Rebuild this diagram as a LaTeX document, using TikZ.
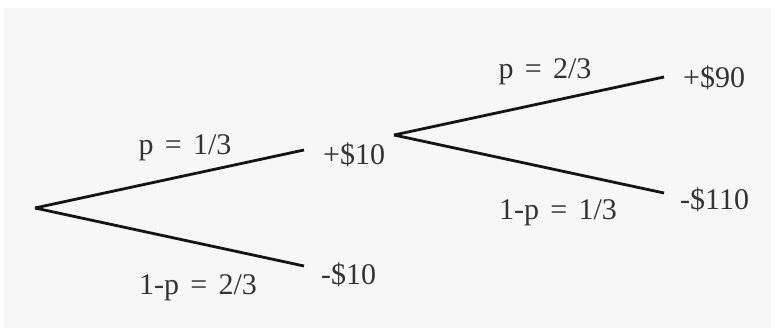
\documentclass[tikz,border=0pt]{standalone}
\usepackage{fontspec}
\setmainfont{Liberation Serif}[WordSpace=1.5]
\usepackage{tikz}
\usetikzlibrary{positioning}
\definecolor{mybg}{RGB}{247,247,247}
\definecolor{mydark}{RGB}{20,20,20}
\tikzset{
  branch/.style={line width=2.8pt, color=mydark},
  payoff/.style={anchor=west, inner sep=0pt, font=\fontsize{30}{33}\selectfont, text=black!80},
  prob/.style={inner sep=0pt, font=\fontsize{30}{33}\selectfont, text=black!80}
}

\begin{document}
\begin{tikzpicture}[x=1pt, y=1pt]
  \useasboundingbox (0,0) rectangle (776,329);
  \fill[mybg] (4,1) rectangle (771,321);
  % first gamble
  \coordinate (root) at (35,121);
  \coordinate (winend) at (304,179);
  \coordinate (loseend) at (304,63);
  \node[payoff] (win1) at (323,174) {+\$10};
  \node[payoff] (lose1) at (321,54) {-\$10};
  \node[prob] (p1) at (185,181) {p = 1/3};
  \node[prob] (q1) at (198,41) {1-p = 2/3};
  \draw[branch] (root) -- (winend);
  \draw[branch] (root) -- (loseend);
  % second gamble
  \coordinate (fork) at (394,194);
  \coordinate (win2end) at (664,252);
  \coordinate (lose2end) at (664,136);
  \node[payoff] (win2) at (683,251) {+\$90};
  \node[payoff] (lose2) at (680,129) {-\$110};
  \node[prob] (p2) at (545,257) {p = 2/3};
  \node[prob] (q2) at (558,116) {1-p = 1/3};
  \draw[branch] (fork) -- (win2end);
  \draw[branch] (fork) -- (lose2end);
\end{tikzpicture}
\end{document}
